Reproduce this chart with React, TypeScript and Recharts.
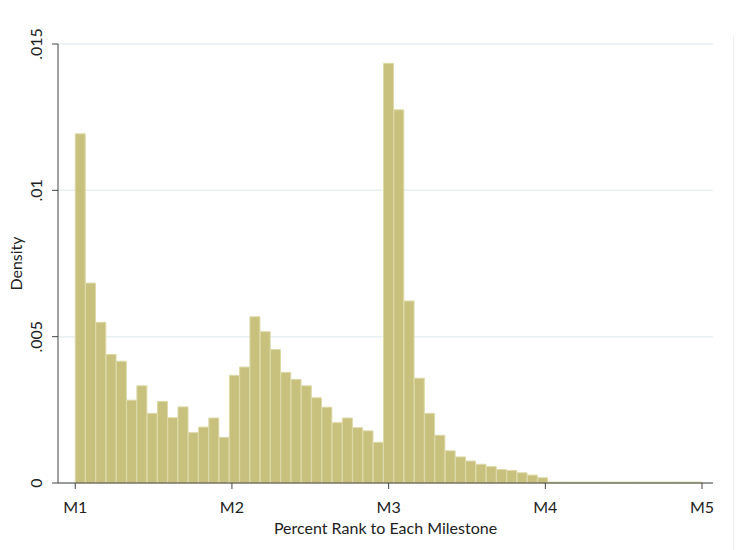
import { ComposedChart, Bar, XAxis, YAxis, CartesianGrid } from 'recharts';

// histogram: 61 bins spanning 0..400 (M1..M5)
const BIN_COUNT = 61;
const X_MAX = 400;

const density = [
  0.01193, 0.00683, 0.00549, 0.00439, 0.00416, 0.00283, 0.00332, 0.00238,
  0.00279, 0.00223, 0.0026, 0.00172, 0.00191, 0.00222, 0.00156, 0.00368,
  0.00396, 0.00568, 0.00517, 0.00456, 0.00378, 0.00354, 0.00332, 0.00291,
  0.00259, 0.00206, 0.00222, 0.00189, 0.00178, 0.00139, 0.01434, 0.01275,
  0.00622, 0.00358, 0.00238, 0.00163, 0.0011, 0.00089, 0.00075, 0.00064,
  0.00056, 0.00046, 0.00043, 0.00035, 0.00027, 0.00018, 0.00003, 0.00003,
  0.00003, 0.00003, 0.00003, 0.00003, 0.00003, 0.00003, 0.00003, 0.00003,
  0.00003, 0.00003, 0.00003, 0.00003, 0.00003,
];

const xTicks = [0, 100, 200, 300, 400];
const xTickLabels = ['M1', 'M2', 'M3', 'M4', 'M5'];
const yTicks = [0, 0.005, 0.01, 0.015];
const yTickLabels = ['0', '.005', '.01', '.015'];

const binWidth = X_MAX / BIN_COUNT;
const data = density.map((d, i) => ({ x: (i + 0.5) * binWidth, density: d }));

const FONT = 'Lato, "Open Sans", sans-serif';

function YTick(props: any) {
  const { x, y, payload } = props;
  const idx = yTicks.indexOf(payload.value);
  return (
    <text
      x={x - 8}
      y={y}
      transform={`rotate(-90 ${x - 8} ${y})`}
      textAnchor="middle"
      fontSize={16}
      fontFamily={FONT}
      fill="#222"
    >
      {idx >= 0 ? yTickLabels[idx] : payload.value}
    </text>
  );
}

export default function App() {
  return (
    <div style={{ position: 'absolute', left: 0, top: 0, width: 736, height: 550, background: '#fff' }}>
      <div style={{ position: 'absolute', left: 733, top: 36, width: 1, height: 514, background: '#eeeeee' }} />
      <ComposedChart
        width={736}
        height={550}
        data={data}
        margin={{ top: 44, right: 23, bottom: 0, left: 0 }}
        barCategoryGap={0}
        barGap={0}
      >
        <CartesianGrid vertical={false} stroke="#e8f0f2" strokeWidth={1.5} />
        <XAxis
          dataKey="x"
          type="number"
          domain={[-11, 407]}
          ticks={xTicks}
          tickFormatter={(v: number) => xTickLabels[xTicks.indexOf(v)]}
          height={67}
          stroke="#444"
          tickSize={6}
          tick={{ fill: '#222', fontSize: 16, fontFamily: FONT }}
          tickMargin={13}
          label={{
            value: 'Percent Rank to Each Milestone',
            position: 'insideBottom',
            offset: 16,
            fill: '#222',
            fontSize: 16,
            fontFamily: FONT,
          }}
        />
        <YAxis
          type="number"
          domain={[0, 0.015]}
          ticks={yTicks}
          width={58}
          stroke="#444"
          tickSize={6}
          tick={<YTick />}
          label={{
            value: 'Density',
            angle: -90,
            position: 'insideLeft',
            offset: 16,
            fill: '#222',
            fontSize: 16,
            fontFamily: FONT,
            style: { textAnchor: 'middle' },
          }}
        />
        <Bar
          dataKey="density"
          fill="#c8c17e"
          stroke="#ddd9a8"
          strokeWidth={1}
          isAnimationActive={false}
        />
      </ComposedChart>
    </div>
  );
}
